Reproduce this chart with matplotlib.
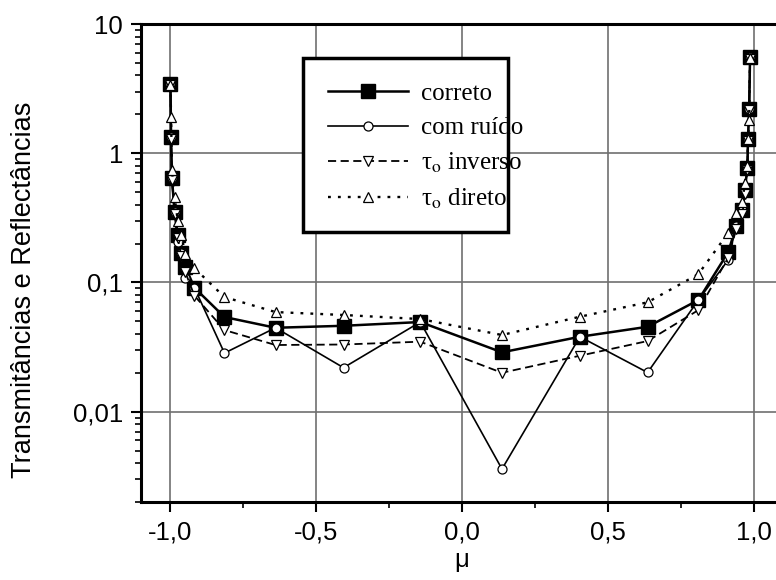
import matplotlib
matplotlib.use("Agg")
import matplotlib.pyplot as plt
from matplotlib.patches import Rectangle
from matplotlib.ticker import FixedLocator, FixedFormatter, LogLocator, NullFormatter

plt.rcParams['mathtext.fontset'] = 'stix'

mu = [-0.999, -0.997, -0.994, -0.985, -0.974, -0.962, -0.948, -0.917,
      -0.814, -0.639, -0.406, -0.143, 0.137, 0.404, 0.636, 0.810,
      0.912, 0.940, 0.961, 0.969, 0.978, 0.980, 0.984, 0.987]

correto = [3.43, 1.34, 0.64, 0.353, 0.233, 0.170, 0.132, 0.091,
           0.054, 0.0446, 0.0462, 0.0494, 0.0288, 0.038, 0.0454, 0.0731,
           0.171, 0.275, 0.363, 0.519, 0.764, 1.28, 2.19, 5.52]
com_ruido = [3.43, 1.34, 0.64, 0.353, 0.206, 0.170, 0.108, 0.091,
             0.0284, 0.0446, 0.0219, 0.0494, 0.0036, 0.038, 0.0201, 0.0731,
             0.149, 0.275, 0.363, 0.519, 0.764, 1.28, 2.19, 5.52]
tau_inverso = [3.4, 1.3, 0.62, 0.34, 0.22, 0.16, 0.12, 0.079,
               0.0428, 0.0328, 0.0331, 0.0348, 0.0200, 0.0271, 0.0352, 0.0611,
               0.155, 0.26, 0.34, 0.48, 0.74, 1.25, 2.15, 5.4]
tau_direto = [3.4, 1.9, 0.74, 0.46, 0.30, 0.233, 0.165, 0.129,
              0.0771, 0.059, 0.056, 0.0521, 0.0392, 0.0543, 0.0702, 0.116,
              0.241, 0.345, 0.42, 0.588, 0.80, 1.30, 1.81, 5.5]

labels = ["correto", "com ruído", r"τ$_{\mathrm{o}}$ inverso", r"τ$_{\mathrm{o}}$ direto"]
xticks = [-1.0, -0.5, 0.0, 0.5, 1.0]
xticklabels = ["-1,0", "-0,5", "0,0", "0,5", "1,0"]
yticks = [0.01, 0.1, 1, 10]
yticklabels = ["0,01", "0,1", "1", "10"]

W, H = 776, 580
fig = plt.figure(figsize=(W / 100, H / 100), dpi=100)
ax = fig.add_axes([141 / W, 1 - 502 / H, (783 - 141) / W, (502 - 24) / H])

ax.plot(mu, correto, color='black', lw=1.8, marker='s', ms=9.5,
        mfc='black', mec='black', label=labels[0], zorder=3)
ax.plot(mu, com_ruido, color='black', lw=1.2, marker='o', ms=6.5,
        mfc='white', mec='black', mew=0.9, label=labels[1], zorder=4)
ax.plot(mu, tau_inverso, color='black', lw=1.3, dashes=(4.5, 2.5), marker='v', ms=7.5,
        mfc='white', mec='black', mew=0.9, label=labels[2], zorder=5)
ax.plot(mu, tau_direto, color='black', lw=1.7, dashes=(1.2, 3.0), marker='^', ms=7.5,
        mfc='white', mec='black', mew=0.9, label=labels[3], zorder=6)

ax.set_yscale('log')
ax.set_xlim(-1.1, 1.1)
ax.set_ylim(0.002, 10)

ax.xaxis.set_major_locator(FixedLocator(xticks))
ax.xaxis.set_major_formatter(FixedFormatter(xticklabels))
ax.xaxis.set_minor_locator(FixedLocator([-0.75, -0.25, 0.25, 0.75]))
ax.yaxis.set_major_locator(FixedLocator(yticks))
ax.yaxis.set_major_formatter(FixedFormatter(yticklabels))
ax.yaxis.set_minor_locator(LogLocator(base=10, subs=[2, 3, 4, 5, 6, 7, 8, 9], numticks=20))
ax.yaxis.set_minor_formatter(NullFormatter())

for lab in ax.get_xticklabels() + ax.get_yticklabels():
    lab.set_family('Liberation Sans')
    lab.set_fontsize(18.5)
ax.tick_params(which='major', direction='out', length=7, width=1.5, pad=6)
ax.tick_params(which='minor', direction='out', length=4, width=1.2)

ax.grid(True, which='major', color='#707070', lw=1.2)
ax.set_axisbelow(True)
for s in ax.spines.values():
    s.set_linewidth(2.2)

ax.set_ylabel("Transmitâncias e Reflectâncias", family='Liberation Sans', fontsize=19.5)
ax.yaxis.set_label_coords(24 / W, 0.5, transform=fig.transFigure)
ax.set_xlabel("μ", family='Liberation Sans', fontsize=18.5)
ax.xaxis.set_label_coords(462 / W, 1 - 560 / H, transform=fig.transFigure)
ax.xaxis.label.set_va('center')
ax.yaxis.label.set_va('center')

rect = Rectangle((303 / W, 1 - 232 / H), (508 - 303) / W, (232 - 58) / H,
                 transform=fig.transFigure, facecolor='white', edgecolor='black',
                 lw=2.5, zorder=10, clip_on=False)
ax.add_patch(rect)

leg = ax.legend(loc='upper left', bbox_to_anchor=(320 / W, 1 - 75 / H),
                bbox_transform=fig.transFigure, frameon=False, numpoints=1,
                prop={'family': 'Liberation Serif', 'size': 18},
                handlelength=3.2, handletextpad=0.55, labelspacing=0.47,
                borderpad=0.3, borderaxespad=0)
leg.set_zorder(11)

fig.savefig("out.png", dpi=100)
